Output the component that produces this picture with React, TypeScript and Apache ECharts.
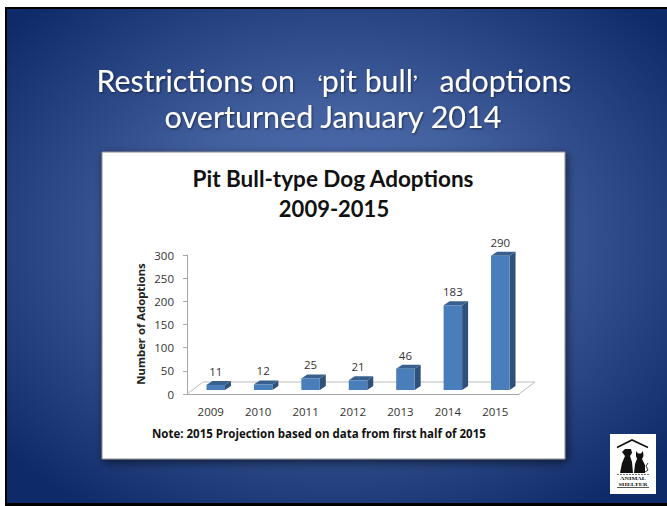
import React, { useEffect, useRef } from "react";
import * as echarts from "echarts";

const years = ["2009", "2010", "2011", "2012", "2013", "2014", "2015"];
const adoptions = [11, 12, 25, 21, 46, 183, 290];
const yTicks = [0, 50, 100, 150, 200, 250, 300];
const slideTitle = ["Restrictions on ‘pit bull’ adoptions", "overturned January 2014"];
const chartTitle = ["Pit Bull-type Dog Adoptions", "2009-2015"];
const yName = "Number of Adoptions";
const note = "Note: 2015 Projection based on data from first half of 2015";
const logoText = ["ANIMAL", "SHELTER"];

const BODY = '"Open Sans", "Noto Sans", sans-serif';
const HEAD = 'QuoteCJK, Lato, sans-serif';
const fontCss = `@font-face{font-family:QuoteCJK;src:local("Noto Sans CJK SC");unicode-range:U+2018-2019;size-adjust:64%;}svg text{font-variant-ligatures:none;}`;

// depth of the pseudo-3D floor and bars, in pixels
const FLOOR_DX = 16;
const FLOOR_DY = 12;
const BAR_DX = 6;
const BAR_DY = 4;
const BAR_LIFT = 4;
const BAR_SHIFT = 5;

function renderBar(params: any, api: any) {
  const x = api.coord([api.value(0), 0]);
  const t = api.coord([api.value(0), api.value(1)]);
  const bw = (api.size([1, 0])[0] as number) * 0.39;
  const cx = x[0] + BAR_SHIFT;
  const l = cx - bw / 2;
  const r = cx + bw / 2;
  const b = x[1] - BAR_LIFT;
  const y = t[1] - BAR_LIFT;
  return {
    type: "group",
    children: [
      { type: "polygon", shape: { points: [[r, y], [r + BAR_DX, y - BAR_DY], [r + BAR_DX, b - BAR_DY], [r, b]] }, style: { fill: "#2f5078" } },
      { type: "polygon", shape: { points: [[l, y], [l + BAR_DX, y - BAR_DY], [r + BAR_DX, y - BAR_DY], [r, y]] }, style: { fill: "#38608f" } },
      { type: "rect", shape: { x: l, y, width: r - l, height: b - y }, style: { fill: "#4a7ebb" } },
      { type: "text", x: cx, y: y - BAR_DY - 3.5, style: { text: String(api.value(1)), fill: "#333", font: `11.5px ${BODY}`, align: "center", verticalAlign: "bottom" } },
    ],
  };
}

function renderFloor(params: any, api: any) {
  const half = (api.size([1, 0])[0] as number) / 2;
  const p0 = api.coord([0, 0]);
  const p1 = api.coord([years.length - 1, 0]);
  const a = [p0[0] - half, p0[1]];
  const b = [p1[0] + half, p1[1]];
  return {
    type: "polyline",
    shape: { points: [a, [a[0] + FLOOR_DX, a[1] - FLOOR_DY], [b[0] + FLOOR_DX, b[1] - FLOOR_DY], b] },
    style: { fill: "none", stroke: "#bdbdbd", lineWidth: 1 },
    silent: true,
  };
}

export default function App() {
  const ref = useRef<HTMLDivElement>(null);
  useEffect(() => {
    const chart = echarts.init(ref.current!, null, { renderer: "svg" });
    const shadow = { textShadowColor: "rgba(0,0,0,0.5)", textShadowBlur: 2, textShadowOffsetX: 1, textShadowOffsetY: 1 };
    chart.setOption({
      animation: false,
      textStyle: { fontFamily: BODY },
      grid: { left: 187, top: 255, width: 332, height: 139, containLabel: false },
      xAxis: {
        type: "category",
        data: years,
        axisLine: { lineStyle: { color: "#a6a6a6" } },
        axisTick: { lineStyle: { color: "#a6a6a6" }, length: 4 },
        axisLabel: { color: "#333", fontSize: 11.5, margin: 11, fontFamily: BODY },
      },
      yAxis: {
        type: "value",
        min: 0,
        max: 300,
        interval: 50,
        splitLine: { show: false },
        axisLine: { show: true, lineStyle: { color: "#a6a6a6" } },
        axisTick: { show: true, lineStyle: { color: "#a6a6a6" }, length: 4 },
        axisLabel: { color: "#333", fontSize: 11.5, margin: 13, fontFamily: BODY, formatter: (v: number) => (yTicks.includes(v) ? String(v) : "") },
      },
      graphic: {
        elements: [
          { type: "rect", z: -10, shape: { x: 5, y: 7, width: 662, height: 499 }, style: { fill: "#000" } },
          {
            type: "rect",
            z: -9,
            shape: { x: 7, y: 9, width: 660, height: 494 },
            style: {
              fill: new echarts.graphic.RadialGradient(0.5, 0.47, 0.66, [
                { offset: 0, color: "#5574b9" },
                { offset: 0.4, color: "#43609f" },
                { offset: 1, color: "#0f2a68" },
              ]),
            },
          },
          { type: "rect", z: -8, shape: { x: 102, y: 152, width: 463, height: 307 }, style: { fill: "#fff", stroke: "#8a8a8a", lineWidth: 1, shadowColor: "rgba(0,0,0,0.55)", shadowBlur: 10, shadowOffsetX: 2, shadowOffsetY: 3 } },
          { type: "text", z: -7, x: 334, y: 80, style: { text: slideTitle[0], fill: "#fff", font: `30.3px ${HEAD}`, align: "center", verticalAlign: "middle", ...shadow } },
          { type: "text", z: -7, x: 333, y: 116, style: { text: slideTitle[1], fill: "#fff", font: `30.5px ${HEAD}`, align: "center", verticalAlign: "middle", ...shadow } },
          { type: "text", z: -7, x: 333, y: 178, style: { text: chartTitle[0], fill: "#111", font: `bold 22.5px Lato, sans-serif`, align: "center", verticalAlign: "middle" } },
          { type: "text", z: -7, x: 334, y: 208, style: { text: chartTitle[1], fill: "#111", font: `bold 22px Lato, sans-serif`, align: "center", verticalAlign: "middle" } },
          { type: "text", z: -7, x: 140, y: 324, rotation: Math.PI / 2, style: { text: yName, fill: "#222", font: `bold 11.3px ${BODY}`, align: "center", verticalAlign: "middle" } },
          { type: "text", z: -7, x: 152, y: 433, style: { text: note, fill: "#111", font: `bold 11.5px ${BODY}`, align: "left", verticalAlign: "middle" } },
          {
            type: "group",
            z: -7,
            children: [
              { type: "rect", shape: { x: 610, y: 434, width: 46, height: 60 }, style: { fill: "#fff" } },
              { type: "polyline", shape: { points: [[617, 447.5], [632, 440], [648, 447.5]] }, style: { fill: "none", stroke: "#111", lineWidth: 1.6 } },
              // dog
              { type: "polygon", shape: { points: [[622, 452], [625, 449], [631, 449], [632, 453], [630, 456], [632, 462], [633, 473], [620, 473], [622, 463], [625, 456]] }, style: { fill: "#111" } },
              // cat
              { type: "polygon", shape: { points: [[636, 451], [638, 453.5], [641, 453.5], [643, 451], [643.5, 456], [642, 459], [645, 465], [645, 473], [634, 473], [635, 464], [637, 459], [636, 456]] }, style: { fill: "#111" } },
              { type: "polyline", shape: { points: [[645, 472], [648, 470], [646, 466], [648, 463]] }, style: { fill: "none", stroke: "#333", lineWidth: 1 } },
              { type: "line", shape: { x1: 617, y1: 474.5, x2: 649, y2: 474.5 }, style: { stroke: "#777", lineWidth: 1, lineDash: [2, 1] } },
              { type: "text", x: 633, y: 478, scaleX: 1.25, style: { text: logoText[0], fill: "#111", font: `bold 5px "Liberation Serif", serif`, align: "center", verticalAlign: "middle" } },
              { type: "text", x: 633, y: 484, scaleX: 1.25, style: { text: logoText[1], fill: "#111", font: `bold 5px "Liberation Serif", serif`, align: "center", verticalAlign: "middle" } },
              { type: "line", shape: { x1: 617, y1: 487.5, x2: 649, y2: 487.5 }, style: { stroke: "#555", lineWidth: 1 } },
            ],
          },
        ],
      },
      series: [
        { type: "custom", coordinateSystem: "cartesian2d", z: 1, data: [0], renderItem: renderFloor, silent: true },
        { type: "custom", coordinateSystem: "cartesian2d", z: 3, data: adoptions.map((v, i) => [i, v]), encode: { x: 0, y: 1 }, renderItem: renderBar, clip: false },
      ],
    });
    return () => chart.dispose();
  }, []);
  return (
    <>
      <style>{`html,body{margin:0;padding:0;background:#fff}` + fontCss}</style>
      <div ref={ref} style={{ width: 667, height: 506 }} />
    </>
  );
}
